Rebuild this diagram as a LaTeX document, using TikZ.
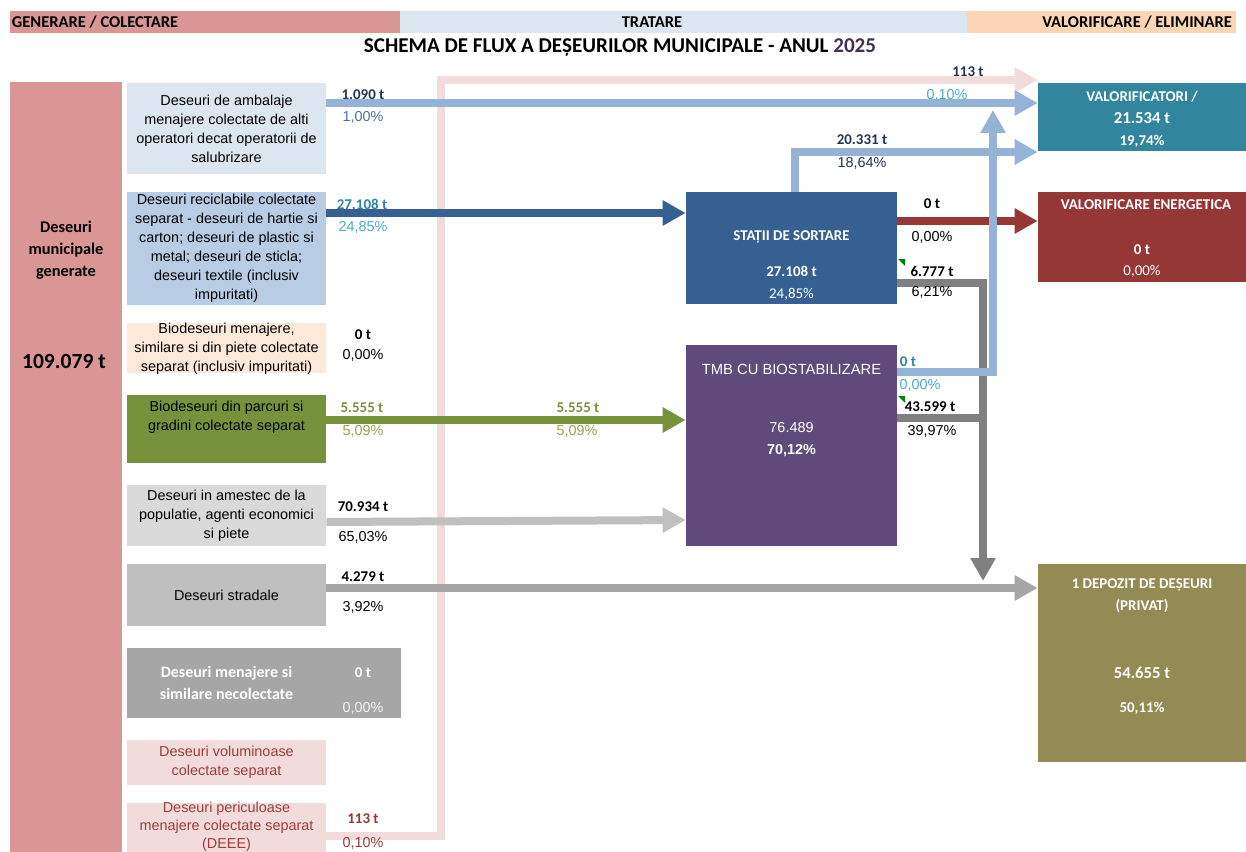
\documentclass[tikz,border=0pt]{standalone}
\usepackage{fontspec}
\setmainfont{Carlito}
\newfontfamily\arialf{Liberation Sans}
\usetikzlibrary{arrows.meta}

\begin{document}
\begin{tikzpicture}[line join=miter,x=0.02cm,y=-0.02cm,
  >={Triangle[length=0.46cm,width=0.48cm]},
  box/.style={rectangle,inner sep=0pt,align=center},
  flow/.style={line width=0.16cm},
  src/.style={font=\arialf\fontsize{8.2}{10.8}\selectfont,align=center,text=black},
  qty/.style={font=\bfseries\fontsize{8.5}{10}\selectfont},
  pct/.style={font=\arialf\fontsize{8.2}{10}\selectfont},
  hdr/.style={font=\bfseries\fontsize{9.4}{11}\selectfont},
  dst/.style={font=\bfseries\fontsize{8.5}{10}\selectfont,text=white}]
\definecolor{hdrpink}{RGB}{217,150,148}
\definecolor{hdrblue}{RGB}{220,230,241}
\definecolor{hdrpeach}{RGB}{252,213,180}
\definecolor{titlepurple}{RGB}{64,49,81}
\definecolor{recblue}{RGB}{184,204,228}
\definecolor{biopeach}{RGB}{253,233,217}
\definecolor{parkgreen}{RGB}{118,147,60}
\definecolor{greyone}{RGB}{217,217,217}
\definecolor{greytwo}{RGB}{191,191,191}
\definecolor{greythree}{RGB}{166,166,166}
\definecolor{dangpink}{RGB}{242,220,219}
\definecolor{dangtext}{RGB}{155,61,58}
\definecolor{valoteal}{RGB}{49,133,156}
\definecolor{enerred}{RGB}{149,55,53}
\definecolor{depoolive}{RGB}{148,138,84}
\definecolor{sortnavy}{RGB}{54,96,146}
\definecolor{tmbpurple}{RGB}{96,74,123}
\definecolor{flowblue}{RGB}{149,179,215}
\definecolor{flowgrey}{RGB}{128,128,128}
\definecolor{flowlgrey}{RGB}{192,192,192}
\definecolor{labnavy}{RGB}{38,52,84}
\definecolor{labblue}{RGB}{79,111,159}
\definecolor{labteal}{RGB}{75,172,198}
\definecolor{labgreen}{RGB}{143,168,84}
\definecolor{commgreen}{RGB}{0,128,0}
\fill[white] (0,0) rectangle (1246,851);
\useasboundingbox (0,0) rectangle (1246,851);
% header bands
\node[box,fill=hdrpink,minimum width=7.8cm,minimum height=0.44cm] (hgen) at (205,22) {};
\node[hdr,anchor=west,inner sep=1pt] (tgen) at (hgen.west) {GENERARE / COLECTARE};
\node[box,fill=hdrblue,minimum width=11.34cm,minimum height=0.44cm] (htrat) at (683.5,22) {};
\node[hdr] (ttrat) at (652,22) {TRATARE};
\node[box,fill=hdrpeach,minimum width=5.38cm,minimum height=0.44cm] (hval) at (1101.5,22) {};
\node[hdr,anchor=east,inner sep=1pt] (tval) at (1234,22) {VALORIFICARE / ELIMINARE};
\node[font=\bfseries\fontsize{12}{14}\selectfont] (title) at (620,47) {SCHEMA DE FLUX A DEȘEURILOR MUNICIPALE - ANUL \textcolor{titlepurple}{2025}};
% generated
\node[box,fill=hdrpink,minimum width=2.24cm,minimum height=15.8cm,anchor=north] (gen) at (66,82) {};
\node[font=\bfseries\fontsize{9.3}{12.5}\selectfont,align=center] (gent) at (66,250) {Deseuri\\municipale\\generate};
\node[font=\bfseries\fontsize{12.3}{14}\selectfont] (gentot) at (64,361) {109.079 t};
% collection streams
\node[box,src,fill=hdrblue,minimum width=3.98cm,minimum height=1.82cm] (amb) at (226.5,128.5) {Deseuri de ambalaje\\menajere colectate de alti\\operatori decat operatorii de\\salubrizare};
\node[box,src,fill=recblue,minimum width=3.98cm,minimum height=2.26cm] (rec) at (226.5,248.5) {Deseuri reciclabile colectate\\separat - deseuri de hartie si\\carton; deseuri de plastic si\\metal; deseuri de sticla;\\deseuri textile (inclusiv\\impuritati)};
\node[box,src,fill=biopeach,minimum width=3.98cm,minimum height=1.0cm] (bio) at (226.5,348) {};
\node[src] (biot) at (226.5,348.5) {Biodeseuri menajere,\\similare si din piete colectate\\separat (inclusiv impuritati)};
\node[box,fill=parkgreen,minimum width=3.98cm,minimum height=1.36cm] (grd) at (226.5,429) {};
\node[src] (grdt) at (226.5,417.5) {Biodeseuri din parcuri si\\gradini colectate separat};
\node[box,src,fill=greyone,minimum width=3.98cm,minimum height=1.22cm] (mix) at (226.5,515.5) {Deseuri in amestec de la\\populatie, agenti economici\\si piete};
\node[box,src,fill=greytwo,minimum width=3.98cm,minimum height=1.24cm] (strad) at (226.5,595) {Deseuri stradale};
\node[box,fill=greythree,minimum width=5.48cm,minimum height=1.4cm] (necol) at (264,683) {};
\node[font=\bfseries\fontsize{9.1}{12.5}\selectfont,align=center,text=white] (necolt) at (226.5,683) {Deseuri menajere si\\similare necolectate};
\node[qty,text=white] (necolq) at (363,673) {0 t};
\node[pct,text=white!95!black] (necolp) at (363,708) {0,00\%};
\node[box,src,fill=dangpink,text=dangtext,minimum width=3.98cm,minimum height=0.9cm] (vol) at (226.5,762.5) {Deseuri voluminoase\\colectate separat};
\node[box,fill=dangpink,minimum width=3.98cm,minimum height=1.2cm,anchor=north] (dee) at (226.5,803) {};
\node[src,text=dangtext,anchor=north,inner sep=0pt,font=\arialf\fontsize{8.2}{10.2}\selectfont] (deet) at (226.5,802) {Deseuri periculoase\\menajere colectate separat\\(DEEE)};
% treatment
\node[box,fill=sortnavy,minimum width=4.22cm,minimum height=2.24cm] (stat) at (791.5,248) {};
\node[dst] (statt) at (791.5,237) {STAȚII DE SORTARE};
\node[dst] (statq) at (791.5,271) {27.108 t};
\node[font=\fontsize{8.5}{10}\selectfont,text=white] (statp) at (791.5,294) {24,85\%};
\node[box,fill=tmbpurple,minimum width=4.22cm,minimum height=4.02cm] (tmb) at (791.5,445.5) {};
\node[font=\arialf\fontsize{8.4}{10}\selectfont,text=white] (tmbt) at (791.5,369) {TMB CU BIOSTABILIZARE};
\node[font=\arialf\fontsize{8.2}{10}\selectfont,text=white] (tmbq) at (791.5,428) {76.489};
\node[font=\arialf\bfseries\fontsize{8.2}{10}\selectfont,text=white] (tmbp) at (791.5,451) {70,12\%};
\fill[commgreen] (898,259) -- (905,259) -- (905,266) -- cycle;
\fill[commgreen] (898,396) -- (905,396) -- (905,403) -- cycle;
% destinations
\node[box,fill=valoteal,minimum width=4.16cm,minimum height=1.36cm] (valo) at (1142,117) {};
\node[dst] (valot) at (1142,97) {VALORIFICATORI /};
\node[dst,font=\bfseries\fontsize{9.5}{11}\selectfont] (valoq) at (1142,118) {21.534 t};
\node[dst] (valop) at (1142,141) {19,74\%};
\node[box,fill=enerred,minimum width=4.16cm,minimum height=1.8cm] (ener) at (1142,237) {};
\node[dst] (enert) at (1146,205) {VALORIFICARE ENERGETICA};
\node[dst] (enerq) at (1142,250) {0 t};
\node[font=\fontsize{8.5}{10}\selectfont,text=white] (enerp) at (1142,271) {0,00\%};
\node[box,fill=depoolive,minimum width=4.16cm,minimum height=3.96cm] (depo) at (1142,663) {};
\node[dst,align=center,font=\bfseries\fontsize{8.5}{12.3}\selectfont] (depot) at (1142,596) {1 DEPOZIT DE DEȘEURI\\(PRIVAT)};
\node[dst,font=\bfseries\fontsize{9.5}{11}\selectfont] (depoq) at (1142,673) {54.655 t};
\node[dst] (depop) at (1142,708) {50,11\%};
% flows
\coordinate (joinD) at (983,581);
\coordinate (joinV) at (993,110);
\draw[flow,dangpink,->] (dee.east |- 0,836) -- (441,836) -- (441,80) -- (valo.west |- 0,80);
\draw[flow,flowblue,->] (amb.east |- 0,103) -- (valo.west |- 0,103);
\draw[flow,sortnavy,->] (rec.east |- 0,213) -- (stat.west |- 0,213);
\draw[flow,parkgreen,->] (grd.east |- 0,420) -- (tmb.west |- 0,420);
\draw[flow,flowlgrey,->] (mix.east |- 0,522) -- (tmb.west |- 0,520);
\draw[flow,greythree,->] (strad.east |- 0,588) -- (depo.west |- 0,588);
\draw[flow,flowblue,->] (stat.north -| 795,0) -- (795,152) -- (valo.west |- 0,152);
\draw[flow,enerred,->] (stat.east |- 0,221) -- (ener.west |- 0,221);
\draw[flow,flowgrey] (tmb.east |- 0,418) -- (983,418);
\draw[flow,flowgrey,->] (stat.east |- 0,283) -- (983,283) -- (joinD);
\draw[flow,flowblue,->] (tmb.east |- 0,372) -- (993,372) -- (joinV);
% quantities
\node[qty,text=labnavy] (q1) at (363,95) {1.090 t};
\node[pct,text=labblue] (p1) at (363,117) {1,00\%};
\node[qty,text=valoteal] (q2) at (362,204) {27.108 t};
\node[pct,text=labteal] (p2) at (363,227) {24,85\%};
\node[qty] (q3) at (363,335) {0 t};
\node[pct] (p3) at (363,355) {0,00\%};
\node[qty,text=parkgreen] (q4) at (362,408) {5.555 t};
\node[pct,text=labgreen] (p4) at (363,431) {5,09\%};
\node[qty,text=parkgreen] (q4b) at (578,408) {5.555 t};
\node[pct,text=labgreen] (p4b) at (577,431) {5,09\%};
\node[qty] (q5) at (363,507) {70.934 t};
\node[pct] (p5) at (363,537) {65,03\%};
\node[qty] (q6) at (363,577) {4.279 t};
\node[pct] (p6) at (363,607) {3,92\%};
\node[qty,text=enerred] (q9) at (363,819) {113 t};
\node[pct,text=dangtext] (p9) at (363,843) {0,10\%};
\node[qty,text=labnavy] (qtop) at (968,72) {113 t};
\node[pct,text=labteal] (ptop) at (947,95) {0,10\%};
\node[qty,text=labnavy] (qsrt) at (862,140) {20.331 t};
\node[pct,text=labnavy] (psrt) at (862,163) {18,64\%};
\node[qty] (qen) at (932,204) {0 t};
\node[pct] (pen) at (932,237) {0,00\%};
\node[qty] (qdep) at (932,271) {6.777 t};
\node[pct] (pdep) at (932,292) {6,21\%};
\node[qty,text=valoteal] (qtv) at (908,362) {0 t};
\node[pct,text=labteal] (ptv) at (920,385) {0,00\%};
\node[qty] (qtd) at (930,407) {43.599 t};
\node[pct] (ptd) at (932,431) {39,97\%};
\end{tikzpicture}
\end{document}
